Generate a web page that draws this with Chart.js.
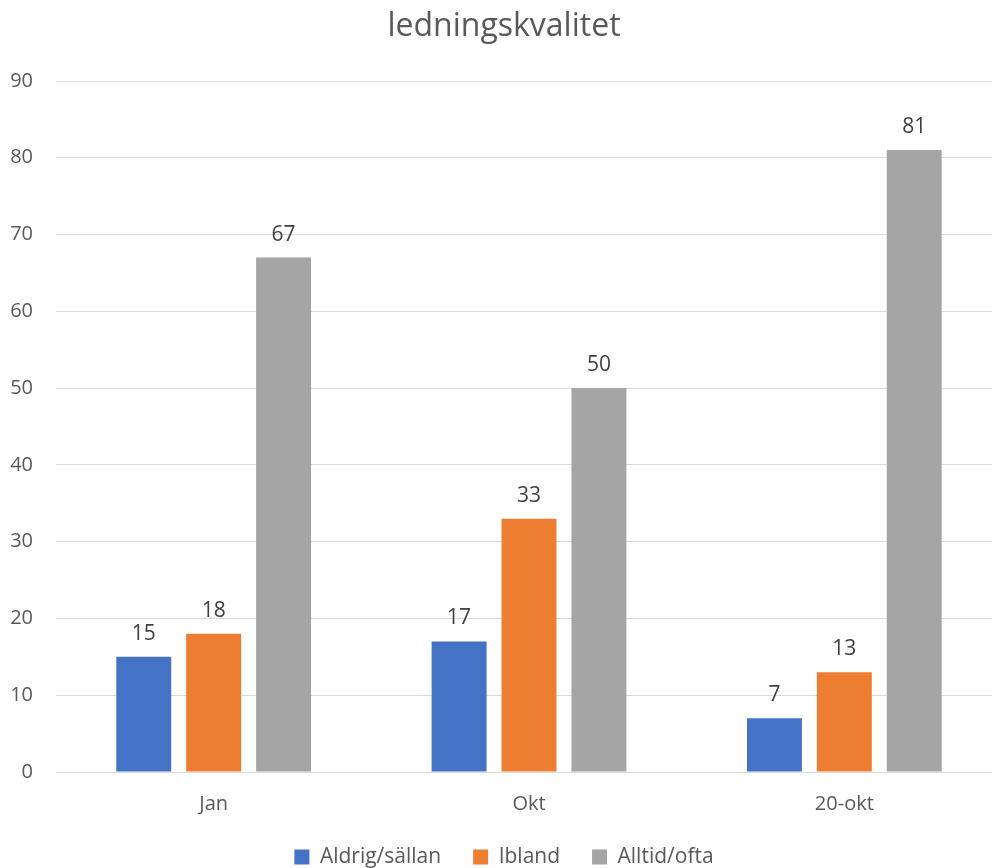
<!DOCTYPE html>
<html>
<head>
<meta charset="utf-8">
<script src="https://cdn.jsdelivr.net/npm/chart.js@4.4.1/dist/chart.umd.min.js"></script>
<style>
  html, body { margin: 0; padding: 0; background: #fff; overflow: hidden; }
  /* the original chart is a bit wider than the picture, it gets cut on the right */
  #wrap { width: 1024px; height: 868px; }
</style>
</head>
<body>
<div id="wrap"><canvas id="bar-chart"></canvas></div>
<script>
const categories = ['Jan', 'Okt', '20-okt'];
const aldrig = [15, 17, 7];
const ibland = [18, 33, 13];
const alltid = [67, 50, 81];

const fontFamily = "'Open Sans', 'Noto Sans', sans-serif";

// draws the value above each bar
const valueLabels = {
  id: 'valueLabels',
  afterDatasetsDraw(chart) {
    const ctx = chart.ctx;
    ctx.save();
    ctx.fillStyle = '#404040';
    ctx.font = '21px ' + fontFamily;
    ctx.textAlign = 'center';
    ctx.textBaseline = 'alphabetic';
    chart.data.datasets.forEach((ds, i) => {
      chart.getDatasetMeta(i).data.forEach((bar, j) => {
        ctx.fillText(ds.data[j], bar.x, bar.y - 17);
      });
    });
    ctx.restore();
  },
};

// legend padding is only wanted between the items, not above/below them
const legendHeight = {
  id: 'legendHeight',
  beforeLayout(chart) {
    const legend = chart.legend;
    if (legend && !legend._fixed) {
      const fit = legend.fit;
      legend.fit = function () {
        fit.call(this);
        this.height = 53.5;
      };
      legend._fixed = true;
    }
  },
};

new Chart(document.getElementById('bar-chart'), {
  type: 'bar',
  data: {
    labels: categories,
    datasets: [
      { label: 'Aldrig/sällan', data: aldrig, backgroundColor: '#4472c4' },
      { label: 'Ibland', data: ibland, backgroundColor: '#ed7d31' },
      { label: 'Alltid/ofta', data: alltid, backgroundColor: '#a5a5a5' },
    ],
  },
  options: {
    responsive: true,
    maintainAspectRatio: false,
    animation: false,
    layout: { padding: { left: 6, right: 22, top: 4, bottom: 0 } },
    datasets: {
      bar: { categoryPercentage: 0.665, barPercentage: 0.786 },
    },
    scales: {
      x: {
        grid: { display: false, drawTicks: false },
        border: { color: '#d9d9d9', width: 1 },
        ticks: { color: '#595959', font: { family: fontFamily, size: 20 }, padding: 20 },
        afterFit: (scale) => { scale.height = 42.5; },
      },
      y: {
        min: 0,
        max: 90,
        grid: { color: '#d9d9d9', drawTicks: false },
        border: { display: false },
        ticks: { stepSize: 10, color: '#595959', font: { family: fontFamily, size: 20 }, padding: 23 },
        afterFit: (scale) => { scale.width = 50; },
      },
    },
    plugins: {
      title: {
        display: true,
        text: 'ledningskvalitet',
        color: '#595959',
        font: { family: fontFamily, size: 32, weight: 'normal' },
        padding: { top: 4, bottom: 34.6 },
      },
      legend: {
        position: 'bottom',
        labels: {
          color: '#595959',
          font: { family: fontFamily, size: 21 },
          boxWidth: 15,
          boxHeight: 15,
          padding: 32,
        },
      },
      tooltip: { enabled: false },
    },
  },
  plugins: [valueLabels, legendHeight],
});
</script>
</body>
</html>
